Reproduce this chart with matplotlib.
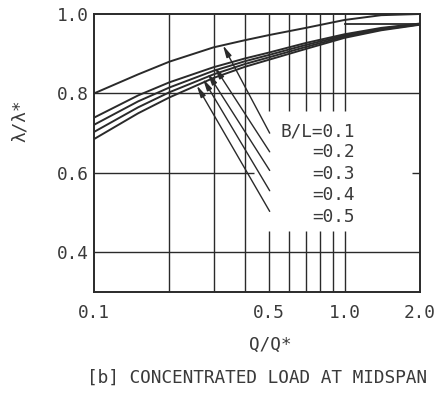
import numpy as np
import matplotlib

matplotlib.use("Agg")
import matplotlib.pyplot as plt

# Q/Q* stations at which the buckling curves are tabulated
q_ratio = [0.1, 0.15, 0.2, 0.3, 0.4, 0.5, 0.7, 1.0, 1.4, 2.0]

# lambda/lambda* for each width ratio B/L
lam_bl01 = [0.800, 0.848, 0.880, 0.916, 0.934, 0.947, 0.965, 0.985, 0.997, 1.000]
lam_bl02 = [0.739, 0.795, 0.828, 0.866, 0.888, 0.903, 0.927, 0.949, 0.965, 0.976]
lam_bl03 = [0.721, 0.780, 0.815, 0.857, 0.881, 0.897, 0.922, 0.946, 0.963, 0.975]
lam_bl04 = [0.703, 0.765, 0.803, 0.848, 0.874, 0.891, 0.917, 0.943, 0.961, 0.974]
lam_bl05 = [0.685, 0.750, 0.790, 0.839, 0.867, 0.885, 0.912, 0.940, 0.959, 0.973]

# upper limit reached by the wider plates
cap_q = [1.0, 2.0]
cap_lam = [0.976, 0.976]

bl_labels = ["B/L=0.1", "=0.2", "=0.3", "=0.4", "=0.5"]
curves = [lam_bl01, lam_bl02, lam_bl03, lam_bl04, lam_bl05]

x_ticks = [0.1, 0.5, 1.0, 2.0]
x_tick_labels = ["0.1", "0.5", "1.0", "2.0"]
y_ticks = [0.4, 0.6, 0.8, 1.0]
y_tick_labels = ["0.4", "0.6", "0.8", "1.0"]

# layout of the leader lines / key
arrow_tip_q = [0.327, 0.303, 0.284, 0.272, 0.257]
arrow_tail_q = 0.5025
arrow_tail_lam = [0.700, 0.653, 0.606, 0.555, 0.503]
label_q = 1.10
label_lam = [0.705, 0.652, 0.598, 0.545, 0.490]

INK = "#2a2a2a"
TEXT = "#3a3a3a"
FONT = "DejaVu Sans Mono"
FS = 12.8

plt.rcParams["font.family"] = [FONT, "DejaVu Sans"]

fig = plt.figure(figsize=(4.38, 3.93), dpi=100)
ax = fig.add_axes([94 / 438, 1 - 292 / 393, 326 / 438, 278 / 393])
ax.set_xscale("log")
ax.set_xlim(0.1, 2.0)
ax.set_ylim(0.3, 1.0)

# grid: lines right of 0.5 are broken around the key
for q in [0.2, 0.3, 0.4]:
    ax.vlines(q, 0.3, 1.0, color=INK, lw=1.0)
for q in [0.5, 0.6, 0.7, 0.8, 0.9, 1.0]:
    ax.vlines(q, 0.755, 1.0, color=INK, lw=1.0)
    ax.vlines(q, 0.3, 0.4525, color=INK, lw=1.0)
ax.hlines(0.4, 0.1, 2.0, color=INK, lw=1.0)
ax.hlines(0.8, 0.1, 2.0, color=INK, lw=1.0)
ax.hlines(0.6, 0.1, 0.437, color=INK, lw=1.0)
ax.hlines(0.6, 1.86, 2.0, color=INK, lw=1.0)

for lam in curves:
    ax.plot(q_ratio, lam, color=INK, lw=1.4, solid_capstyle="round",
            solid_joinstyle="round")
ax.plot(cap_q, cap_lam, color=INK, lw=1.3)

log_q = np.log10(q_ratio)
for lam, tip_q, tail_lam in zip(curves, arrow_tip_q, arrow_tail_lam):
    tip_lam = np.interp(np.log10(tip_q), log_q, lam)
    ax.annotate(
        "",
        xy=(tip_q, tip_lam),
        xytext=(arrow_tail_q, tail_lam),
        arrowprops=dict(
            arrowstyle="-|>,head_length=0.7,head_width=0.16",
            color=INK, lw=1.0, shrinkA=0, shrinkB=0,
        ),
    )

for text, y in zip(bl_labels, label_lam):
    ax.text(label_q, y, text, ha="right", va="center",
            fontsize=FS, color=TEXT)

ax.set_xticks(x_ticks)
ax.set_xticklabels(x_tick_labels)
ax.set_yticks(y_ticks)
ax.set_yticklabels(y_tick_labels)
ax.minorticks_off()
ax.tick_params(axis="both", length=0, labelsize=FS, labelcolor=TEXT)
ax.tick_params(axis="x", pad=9)
ax.tick_params(axis="y", pad=4)
for spine in ax.spines.values():
    spine.set_color(INK)
    spine.set_linewidth(1.4)

fig.text(270 / 438, 1 - 345 / 393, "Q/Q*", ha="center", va="center",
         fontsize=FS, color=TEXT)
fig.text(20 / 438, 1 - 121 / 393, "λ/λ*", ha="center", va="center",
         rotation=90, fontsize=FS, color=TEXT)
fig.text(257 / 438, 1 - 378 / 393, "[b] CONCENTRATED LOAD AT MIDSPAN",
         ha="center", va="center", fontsize=FS, color=TEXT)

fig.savefig("out.png", dpi=100)
